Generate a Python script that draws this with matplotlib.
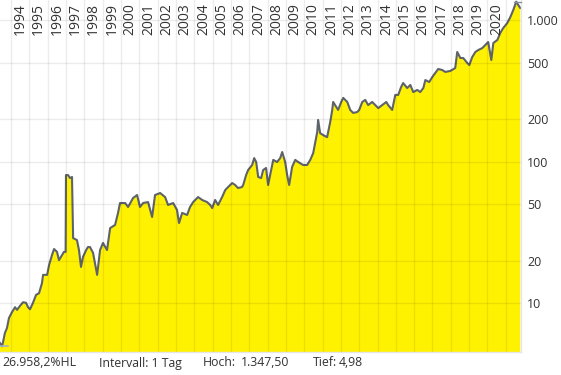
import matplotlib
matplotlib.use("Agg")
import matplotlib.pyplot as plt
from matplotlib.ticker import FixedLocator, NullFormatter

plt.rcParams['font.family'] = ['Open Sans', 'DejaVu Sans']

# decimal years and closing prices
dates = [1993.40, 1993.51, 1993.56, 1993.67, 1993.78, 1993.89, 1994.06, 1994.22, 1994.33, 1994.49,
         1994.66, 1994.82, 1994.93, 1995.04, 1995.20, 1995.37, 1995.53, 1995.69, 1995.75, 1995.97,
         1996.08, 1996.24, 1996.35, 1996.51, 1996.62, 1996.79, 1996.89, 1996.98, 1997.00, 1997.11,
         1997.22, 1997.33, 1997.39, 1997.60, 1997.71, 1997.82, 1997.93, 1998.10, 1998.20, 1998.31,
         1998.48, 1998.70, 1998.86, 1999.02, 1999.24, 1999.41, 1999.68, 1999.84, 1999.95, 2000.23,
         2000.39, 2000.66, 2000.88, 2001.04, 2001.21, 2001.48, 2001.70, 2001.86, 2002.14, 2002.41,
         2002.57, 2002.85, 2003.06, 2003.17, 2003.34, 2003.61, 2003.77, 2003.94, 2004.21, 2004.43,
         2004.70, 2004.87, 2004.98, 2005.14, 2005.30, 2005.52, 2005.69, 2005.85, 2006.07, 2006.23,
         2006.39, 2006.61, 2006.67, 2006.83, 2006.94, 2007.16, 2007.27, 2007.38, 2007.49, 2007.65,
         2007.76, 2007.92, 2008.03, 2008.14, 2008.31, 2008.52, 2008.69, 2008.80, 2008.96, 2009.07,
         2009.18, 2009.34, 2009.51, 2009.67, 2009.94, 2010.16, 2010.33, 2010.49, 2010.60, 2010.71,
         2010.76, 2010.87, 2011.04, 2011.25, 2011.42, 2011.53, 2011.58, 2011.75, 2011.85, 2012.02,
         2012.13, 2012.35, 2012.51, 2012.67, 2012.89, 2013.00, 2013.17, 2013.33, 2013.49, 2013.71,
         2013.88, 2014.04, 2014.26, 2014.48, 2014.58, 2014.80, 2014.97, 2015.13, 2015.29, 2015.40,
         2015.62, 2015.79, 2015.95, 2016.17, 2016.33, 2016.50, 2016.61, 2016.82, 2016.99, 2017.15,
         2017.31, 2017.53, 2017.70, 2017.97, 2018.24, 2018.35, 2018.52, 2018.68, 2018.90, 2019.01,
         2019.17, 2019.34, 2019.50, 2019.72, 2019.88, 2020.04, 2020.21, 2020.32, 2020.54, 2020.70,
         2020.86, 2021.08, 2021.25, 2021.41, 2021.57, 2021.68, 2021.79]
prices = [5.25, 4.98, 5.3, 6.2, 6.7, 7.9, 8.7, 9.4, 9.0, 9.6,
          10.2, 10.1, 9.4, 9.1, 10.1, 11.5, 11.8, 13.9, 15.9, 15.9,
          18.7, 22.0, 24.2, 23.1, 20.2, 22.0, 23.1, 23.1, 80.5, 80.5,
          76.7, 78.0, 28.9, 28.0, 23.8, 18.1, 21.3, 23.8, 25.0, 25.0,
          22.7, 15.9, 23.8, 26.7, 23.8, 34.0, 35.8, 43.5, 51.1, 51.1,
          47.9, 55.4, 58.2, 47.9, 51.1, 51.9, 40.7, 58.2, 60.1, 56.3,
          49.5, 51.1, 45.6, 36.9, 43.5, 42.1, 47.9, 51.9, 56.3, 53.7,
          51.9, 49.5, 47.1, 53.7, 49.5, 56.3, 63.1, 66.3, 70.7, 68.5,
          65.2, 66.3, 68.5, 80.5, 87.4, 94.8, 106, 99.5, 78.0, 76.7,
          87.4, 90.3, 68.5, 80.5, 103, 99.5, 106, 117, 99.5, 80.5,
          68.5, 91.8, 103, 99.5, 94.8, 94.8, 103, 115, 136, 162,
          197, 159, 154, 149, 191, 232, 264, 243, 232, 264,
          282, 264, 232, 221, 224, 232, 264, 273, 251, 264,
          251, 239, 251, 264, 251, 232, 296, 296, 337, 359,
          331, 348, 310, 321, 310, 331, 377, 365, 396, 423,
          451, 444, 430, 437, 458, 595, 539, 539, 497, 481,
          548, 595, 614, 634, 666, 699, 522, 688, 723, 810,
          878, 952, 1050, 1177, 1347.5, 1276, 1215]

years = list(range(1994, 2021))
grid_years = list(range(1994, 2022))
y_ticks = [10, 20, 50, 100, 200, 500, 1000]
y_tick_labels = ['10', '20', '50', '100', '200', '500', '1.000']

footer = [('26.958,2%HL', 2), ('Intervall: 1 Tag', 99), ('Hoch:', 203), ('1.347,50', 241),
          ('Tief:', 313), ('4,98', 339)]

W, H = 561, 375
fig = plt.figure(figsize=(W / 100, H / 100), dpi=100)
ax = fig.add_axes([0, 1 - 352 / H, 521 / W, 352 / H])

ax.fill_between(dates, prices, 1, color='#fff200', lw=0, zorder=1)
ax.plot(dates, prices, color='#5d6368', lw=1.5, zorder=2)

# high / low markers
lo = min(prices)
hi = max(prices)
ax.plot([1993.40, 1993.85], [lo, lo], color='#a9b1c6', lw=1.2, zorder=3)
ax.plot([2021.45, 2021.83], [hi, hi], color='#8a9099', lw=1.0, zorder=3, clip_on=False)

ax.set_yscale('log')
ax.set_xlim(1993.40, 2021.83)
ax.set_ylim(4.54, 1384)

ax.yaxis.set_major_locator(FixedLocator(y_ticks))
ax.yaxis.set_minor_locator(FixedLocator([]))
ax.set_yticklabels(y_tick_labels)
ax.yaxis.tick_right()
ax.tick_params(axis='y', length=0, pad=4.5, labelsize=9, labelcolor='#333333')

ax.xaxis.set_major_locator(FixedLocator(grid_years))
ax.xaxis.set_major_formatter(NullFormatter())
ax.tick_params(axis='x', length=0)

ax.grid(True, color='#000000', alpha=0.075, lw=1)
ax.set_axisbelow(False)

for s in ['top', 'left']:
    ax.spines[s].set_visible(False)
for s in ['right', 'bottom']:
    ax.spines[s].set_color('#e6e6e6')
    ax.spines[s].set_linewidth(1)

# year labels along the top
for yr in years:
    ax.text(yr + 0.5, 1 - 3 / 352, str(yr), transform=ax.get_xaxis_transform(),
            rotation=90, ha='center', va='top', fontsize=10, color='#333333', zorder=4)

for txt, px in footer:
    fig.text(px / W, 1 - 363 / H, txt, ha='left', va='center', fontsize=8.8, color='#333333')

fig.savefig('out.png', dpi=100)
